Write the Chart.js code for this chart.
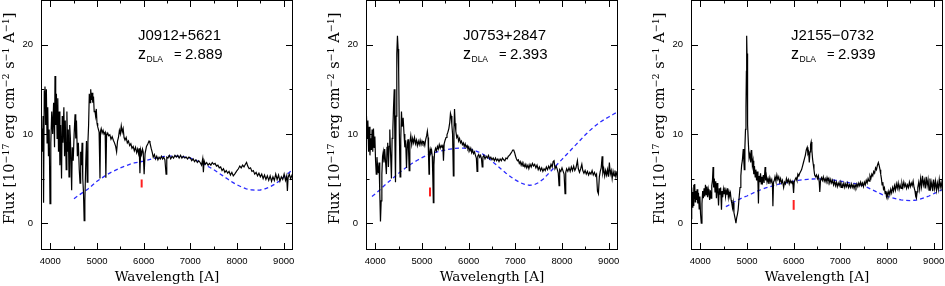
<!DOCTYPE html>
<html>
<head>
<meta charset="utf-8">
<script src="https://cdn.jsdelivr.net/npm/chart.js@4.4.1/dist/chart.umd.min.js"></script>
<style>
  body { margin: 0; background: #fff; }
  #wrap { position: relative; width: 945px; height: 286px; }
  canvas { position: absolute; top: 0; }
</style>
</head>
<body>
<div id="wrap">
  <canvas id="c1" width="295" height="286" style="left:0px"></canvas>
  <canvas id="c2" width="295" height="286" style="left:325px"></canvas>
  <canvas id="c3" width="295" height="286" style="left:650px"></canvas>
</div>
<script>
// axis ticks
var xTicks = [4000, 5000, 6000, 7000, 8000, 9000];
var xMinorTicks = [4500, 5500, 6500, 7500, 8500];
var yTicks = [0, 10, 20];
var yMinorTicks = [5, 15];

// panel labels
var names = ["J0912+5621", "J0753+2847", "J2155\u22120732"];
var zDla = ["2.889", "2.393", "2.939"];

// red DLA markers
var dlaWave = [5957, 5171, 6000];
var dlaLow = [4.0, 3.0, 1.5];
var dlaHigh = [4.9, 4.0, 2.6];

// J0912+5621 spectrum
var wave1 = [3800,3815,3830,3845,3855,3870,3885,3900,3915,3930,3945,3960,3975,3993,4010,4030,4050,4070,4090,4100,4115,4130,4145,4160,4175,4190,4205,4220,4240,4255,4270,4290,4305,4320,4340,4355,4370,4385,4400,4415,4430,4445,4457,4470,4490,4510,4530,4545,4560,4580,4600,4620,4636,4650,4665,4680,4695,4710,4725,4740,4760,4775,4790,4805,4820,4835,4850,4865,4880,4895,4910,4925,4940,4955,4970,4985,5000,5015,5030,5045,5064,5075,5090,5110,5130,5150,5175,5190,5205,5230,5250,5275,5300,5325,5350,5375,5400,5420,5440,5460,5480,5500,5520,5540,5560,5580,5600,5625,5650,5675,5700,5725,5750,5775,5800,5825,5850,5870,5890,5905,5920,5935,5955,5975,5990,6010,6030,6060,6090,6115,6135,6160,6185,6205,6230,6255,6280,6305,6330,6355,6380,6405,6430,6455,6480,6495,6520,6550,6580,6610,6640,6670,6700,6730,6760,6790,6820,6850,6880,6910,6940,6970,7000,7030,7060,7090,7120,7150,7180,7210,7240,7265,7280,7295,7320,7350,7380,7410,7440,7470,7500,7530,7560,7590,7620,7650,7680,7710,7740,7770,7800,7830,7860,7890,7920,7950,7975,8000,8030,8060,8090,8120,8150,8180,8205,8230,8260,8290,8320,8350,8380,8410,8440,8470,8500,8530,8560,8590,8620,8650,8680,8710,8740,8770,8800,8830,8860,8890,8920,8950,8980,9010,9040,9065,9080,9095,9120,9150,9180,9200];
var flux1 = [9.8,10.6,8.0,12.0,2.3,14.8,15.3,11.0,15.0,9.0,13.0,7.5,10.5,2.2,9.0,12.5,10.0,13.5,8.5,16.5,11.0,14.5,9.5,14.0,8.0,12.5,6.5,11.0,5.0,12.0,9.0,13.0,7.5,11.5,6.0,12.5,8.0,10.5,5.2,11.0,9.5,6.5,3.7,8.5,7.0,10.0,12.2,9.5,11.5,7.5,9.0,6.0,4.5,8.0,6.5,9.0,5.0,3.5,0.3,2.5,7.0,9.2,4.6,9.0,11.0,14.5,13.5,15.0,13.8,14.6,13.5,14.2,12.5,12.6,12.0,12.8,11.2,10.8,10.5,10.2,5.0,10.3,10.6,10.1,10.4,10.0,10.2,5.1,9.8,10.1,9.8,9.9,9.4,9.7,9.3,9.0,8.6,8.0,9.2,9.6,10.4,10.0,10.9,10.2,10.6,9.6,9.3,9.6,9.0,9.2,8.7,8.9,8.4,8.6,8.1,8.5,7.9,8.3,7.8,8.4,5.6,8.2,7.7,8.3,8.0,5.5,7.8,8.6,8.9,9.2,9.0,8.4,7.9,7.4,7.7,7.2,7.5,7.1,7.4,7.2,7.5,7.2,7.4,7.1,5.5,7.4,7.3,7.6,7.2,7.5,7.3,7.6,7.4,7.6,7.3,7.6,7.3,7.5,7.3,7.4,7.2,7.4,7.3,7.0,7.2,6.9,7.1,6.8,7.0,6.8,6.5,7.2,5.7,7.0,6.6,6.8,6.5,6.7,6.5,6.8,6.6,6.7,6.4,6.5,6.2,6.3,5.9,6.1,5.7,5.9,5.6,5.8,5.4,5.7,5.3,5.5,5.7,5.9,6.1,6.4,6.2,6.5,6.3,6.6,6.8,6.4,6.1,6.2,5.8,5.9,5.5,5.7,5.3,5.6,5.2,5.5,5.0,5.4,4.9,5.3,4.8,5.3,4.7,5.2,4.8,5.5,4.9,5.4,4.7,5.2,4.9,5.5,4.8,5.3,3.6,5.1,5.5,5.0,5.4,5.3];
var modelWave1 = [4507,4600,4700,4800,4900,5000,5100,5200,5300,5400,5500,5600,5700,5800,5900,6000,6100,6200,6300,6400,6500,6600,6700,6800,6900,7000,7100,7200,7300,7400,7500,7600,7700,7800,7900,8000,8100,8200,8300,8400,8500,8600,8700,8800,8900,9000,9100,9200];
var modelFlux1 = [2.75,3.1,3.45,3.8,4.25,4.7,5.05,5.4,5.7,5.95,6.2,6.4,6.6,6.75,6.85,6.95,7.1,7.25,7.35,7.45,7.5,7.52,7.5,7.45,7.4,7.3,7.1,6.85,6.6,6.3,6.0,5.65,5.3,4.95,4.6,4.3,4.05,3.85,3.75,3.7,3.72,3.85,4.05,4.35,4.7,5.15,5.6,6.05];

// J0753+2847 spectrum
var wave2 = [3800,3810,3825,3840,3855,3870,3885,3900,3915,3930,3945,3960,3975,3990,4005,4020,4035,4050,4065,4080,4095,4110,4125,4140,4155,4170,4185,4200,4215,4237,4250,4265,4280,4295,4310,4325,4345,4360,4375,4390,4405,4420,4432,4445,4460,4474,4488,4500,4515,4530,4545,4560,4575,4596,4615,4632,4650,4668,4685,4700,4712,4725,4740,4760,4780,4800,4820,4840,4860,4880,4900,4920,4940,4960,4980,5000,5020,5040,5060,5080,5100,5115,5130,5140,5150,5160,5175,5190,5205,5220,5232,5243,5255,5270,5290,5310,5330,5350,5370,5390,5410,5430,5445,5460,5475,5495,5515,5535,5555,5575,5595,5610,5625,5640,5655,5672,5685,5697,5710,5725,5745,5765,5785,5805,5825,5845,5865,5885,5905,5925,5945,5965,5985,6005,6025,6045,6065,6085,6105,6125,6145,6165,6180,6195,6215,6235,6255,6275,6290,6305,6325,6350,6375,6400,6425,6450,6475,6500,6525,6550,6575,6600,6625,6650,6675,6700,6725,6750,6775,6800,6825,6850,6875,6900,6925,6945,6965,6985,7005,7025,7045,7065,7085,7105,7125,7145,7165,7185,7205,7225,7245,7270,7290,7315,7340,7365,7390,7415,7440,7465,7490,7515,7540,7565,7590,7615,7640,7665,7690,7715,7740,7765,7790,7810,7830,7850,7875,7900,7920,7937,7950,7975,8000,8025,8045,8065,8080,8100,8125,8150,8175,8200,8225,8250,8275,8300,8330,8350,8375,8400,8425,8445,8470,8495,8520,8545,8570,8595,8620,8645,8670,8695,8720,8740,8760,8780,8800,8820,8840,8860,8875,8895,8915,8935,8955,8975,8995,9015,9035,9055,9075,9095,9115,9135,9155,9175,9200];
var flux2 = [10.0,12.0,9.5,11.5,8.0,10.8,7.6,9.5,8.2,10.5,8.0,10.6,8.5,9.7,7.0,5.5,7.4,6.2,5.6,6.8,3.5,0.2,2.5,5.5,7.5,8.0,6.8,8.3,7.2,5.5,8.5,9.0,6.3,8.6,10.5,8.0,5.0,9.5,10.5,13.0,15.0,9.0,4.6,12.0,19.0,21.0,19.5,17.0,10.0,5.2,9.5,12.5,10.8,11.8,10.0,8.5,9.3,6.2,8.8,9.4,8.2,5.9,9.0,9.8,8.8,9.5,9.0,9.6,8.9,9.3,8.7,9.2,8.8,9.3,8.8,9.2,8.9,9.1,8.7,9.4,9.8,10.3,9.6,7.5,5.5,7.8,8.3,7.9,8.2,7.5,5.0,2.3,6.5,8.0,8.4,8.1,8.6,8.3,8.8,8.4,8.7,8.5,8.8,7.0,8.9,9.3,9.6,9.9,10.2,10.6,11.3,12.3,12.0,11.0,10.0,5.3,10.5,12.8,11.2,10.3,9.6,9.8,9.2,9.5,9.0,9.2,8.8,9.0,8.6,8.9,8.5,8.7,8.3,8.5,8.1,8.4,7.9,8.2,7.8,8.0,7.6,7.3,5.8,7.5,7.7,7.4,7.6,7.2,6.3,7.4,7.6,7.2,7.5,7.3,7.6,7.2,7.4,7.1,7.3,7.0,7.3,7.0,7.2,6.9,7.2,7.0,7.3,7.1,7.0,7.3,7.2,7.5,7.6,7.8,8.0,8.2,8.2,7.9,7.5,7.2,7.0,7.1,6.7,6.9,6.5,6.8,6.4,6.6,6.3,6.6,6.2,6.5,6.1,6.6,6.3,6.7,6.4,6.6,6.2,6.5,6.0,6.3,5.9,6.2,5.8,6.1,5.9,6.3,6.0,6.4,6.1,6.6,6.3,6.9,7.0,6.1,6.4,6.0,5.6,4.2,6.0,5.8,6.2,5.8,5.5,3.3,5.7,6.1,5.8,6.2,5.8,6.3,5.9,6.4,5.9,6.2,7.0,6.1,5.7,6.1,6.6,5.9,5.6,5.9,5.5,5.8,5.4,5.7,5.5,5.9,5.4,5.7,5.3,5.5,3.6,3.3,5.2,5.8,6.2,7.5,5.6,6.1,5.3,5.9,5.4,6.0,5.2,6.8,5.5,5.9,5.0,5.8,5.3,5.9,5.2,5.7,5.5];
var modelWave2 = [3928,4000,4100,4200,4300,4400,4500,4600,4700,4800,4900,5000,5100,5200,5300,5400,5500,5600,5700,5800,5900,6000,6100,6200,6300,6400,6500,6600,6700,6800,6900,7000,7100,7200,7300,7400,7500,7600,7700,7800,7900,8000,8100,8200,8300,8400,8500,8600,8700,8800,8900,9000,9100,9200];
var modelFlux2 = [3.0,3.3,3.75,4.25,4.7,5.15,5.6,6.0,6.4,6.75,7.05,7.35,7.6,7.8,7.95,8.1,8.2,8.3,8.38,8.42,8.42,8.35,8.2,8.0,7.75,7.4,6.95,6.5,6.05,5.6,5.2,4.85,4.55,4.35,4.25,4.3,4.55,4.95,5.5,6.05,6.6,7.15,7.7,8.25,8.8,9.35,9.9,10.4,10.85,11.25,11.6,11.9,12.2,12.5];

// J2155-0732 spectrum
var wave3 = [3800,3810,3820,3830,3840,3850,3860,3870,3880,3890,3900,3915,3930,3945,3960,3975,3990,4005,4020,4035,4050,4065,4080,4095,4110,4125,4140,4155,4170,4185,4200,4215,4230,4245,4260,4273,4285,4300,4315,4330,4345,4360,4375,4390,4405,4420,4435,4453,4465,4480,4495,4510,4525,4540,4555,4570,4585,4600,4615,4630,4645,4660,4675,4690,4705,4720,4735,4750,4763,4778,4795,4810,4830,4850,4868,4885,4900,4920,4932,4942,4955,4968,4978,4987,4993,5000,5007,5018,5029,5045,5065,5080,5100,5115,5130,5145,5160,5175,5190,5205,5220,5235,5245,5258,5275,5290,5305,5320,5335,5350,5365,5388,5400,5415,5430,5450,5470,5490,5510,5530,5545,5555,5568,5585,5600,5620,5640,5660,5680,5700,5720,5740,5760,5785,5805,5825,5845,5865,5885,5905,5925,5945,5965,5985,5998,6012,6030,6050,6070,6090,6110,6130,6150,6170,6190,6210,6230,6250,6270,6290,6305,6320,6335,6350,6362,6375,6390,6405,6420,6435,6450,6470,6490,6510,6530,6548,6560,6575,6595,6615,6635,6655,6675,6695,6715,6735,6755,6775,6795,6815,6835,6855,6875,6895,6915,6935,6955,6975,6995,7015,7035,7055,7075,7095,7115,7135,7155,7175,7195,7215,7235,7255,7275,7295,7315,7335,7355,7375,7395,7415,7435,7455,7475,7495,7515,7535,7555,7575,7595,7615,7635,7655,7675,7695,7715,7735,7755,7775,7795,7815,7835,7850,7865,7880,7895,7910,7925,7945,7960,7975,7990,8005,8020,8040,8060,8080,8100,8120,8140,8160,8180,8200,8220,8240,8260,8280,8300,8320,8340,8360,8380,8400,8420,8440,8460,8480,8500,8520,8540,8560,8580,8600,8615,8630,8645,8660,8680,8700,8720,8740,8760,8780,8800,8820,8840,8860,8880,8900,8920,8940,8960,8980,9000,9020,9040,9060,9080,9100,9120,9140,9160,9180,9200];
var flux3 = [0.5,2.5,4.0,1.8,3.5,2.0,4.3,2.8,4.4,2.4,3.6,2.6,3.8,2.2,3.4,1.6,3.0,1.0,0.0,2.2,3.6,2.8,3.9,3.0,4.3,3.2,4.1,2.9,3.8,3.3,2.6,3.7,2.8,4.2,4.8,6.3,4.0,5.0,3.5,4.7,2.8,4.5,3.6,2.0,3.9,3.2,4.0,1.5,3.6,2.9,3.8,3.3,4.0,3.0,3.6,3.2,3.9,2.9,3.5,3.1,3.4,2.6,2.2,1.7,2.3,1.2,0.8,0.4,0.0,0.6,1.0,1.5,2.8,4.0,5.3,6.5,7.0,8.3,7.0,6.0,8.5,10.5,13.0,17.0,21.0,19.0,15.0,11.0,9.0,7.3,7.8,6.8,8.2,6.5,7.0,5.5,6.4,5.2,6.0,4.8,5.8,4.5,2.2,5.3,4.6,5.6,4.4,5.2,4.7,5.4,4.5,6.3,4.8,5.3,4.6,5.0,4.4,5.1,4.6,4.9,4.3,1.9,4.6,4.8,5.2,4.7,5.4,4.9,5.2,4.6,5.0,4.5,4.8,4.0,4.6,4.4,5.0,4.6,4.9,4.4,4.8,4.5,4.7,4.3,3.4,4.6,4.9,5.1,4.8,5.5,5.3,5.6,5.8,6.0,6.4,6.8,7.2,7.6,8.2,8.5,7.8,8.0,6.8,8.0,8.8,9.1,8.2,7.2,6.6,6.0,5.4,5.2,5.4,5.0,5.3,4.6,3.5,4.8,5.1,4.8,5.2,4.7,5.0,4.6,5.1,4.7,5.0,4.5,4.9,4.5,4.8,4.3,4.7,4.2,4.6,4.1,4.5,4.2,4.6,4.0,4.4,4.1,4.5,4.0,4.4,4.1,4.5,4.0,4.3,4.0,4.4,4.0,4.3,3.9,4.3,4.0,4.4,4.1,4.5,4.2,4.6,4.2,4.5,4.1,4.6,4.3,4.8,4.5,5.0,4.7,5.3,5.0,5.5,5.3,5.8,5.6,6.2,6.0,6.5,6.8,6.4,6.0,5.5,5.0,4.3,4.6,3.8,4.0,3.3,3.6,3.0,3.4,3.1,3.6,3.2,3.8,3.4,4.0,3.6,4.2,3.7,4.4,3.9,4.5,3.8,4.3,3.9,4.5,4.0,4.6,4.1,4.4,3.9,4.3,4.0,4.6,4.1,4.5,4.2,4.7,4.0,3.6,3.0,2.8,3.5,4.0,4.6,3.8,5.0,4.1,5.3,4.3,4.8,3.9,5.2,4.2,4.9,3.7,5.0,4.0,4.6,3.6,4.9,3.9,4.7,3.7,4.5,3.8,4.9,4.0,4.6,3.9,4.6];
var modelWave3 = [4547,4600,4700,4800,4900,5000,5100,5200,5300,5400,5500,5600,5700,5800,5900,6000,6100,6200,6300,6400,6500,6600,6700,6800,6900,7000,7100,7200,7300,7400,7500,7600,7700,7800,7900,8000,8100,8200,8300,8400,8500,8600,8700,8800,8900,9000,9100,9200];
var modelFlux3 = [1.85,2.0,2.3,2.6,2.85,3.05,3.3,3.55,3.75,3.95,4.1,4.25,4.4,4.5,4.6,4.7,4.8,4.87,4.92,4.95,4.96,4.95,4.92,4.87,4.8,4.72,4.63,4.53,4.45,4.35,4.2,3.95,3.7,3.45,3.2,3.02,2.85,2.72,2.62,2.56,2.53,2.57,2.68,2.85,3.05,3.3,3.55,3.8];

var textLeft = [97, 97, 100];

function pairs(w, f) {
    return w.map(function (x, i) { return { x: x, y: f[i] }; });
}

// frame, inward ticks, y title and the object labels
function framePlugin(k) {
    return {
        id: "frame" + k,
        afterDraw: function (chart) {
            var ctx = chart.ctx;
            var a = chart.chartArea;
            var sx = chart.scales.x, sy = chart.scales.y;
            ctx.save();
            ctx.strokeStyle = "#000";
            ctx.lineWidth = 1;
            ctx.strokeRect(a.left + 0.5, a.top + 0.5, a.right - a.left - 1, a.bottom - a.top - 1);
            ctx.beginPath();
            function xt(v, len) {
                var p = Math.round(sx.getPixelForValue(v)) + 0.5;
                ctx.moveTo(p, a.bottom); ctx.lineTo(p, a.bottom - len);
                ctx.moveTo(p, a.top); ctx.lineTo(p, a.top + len);
            }
            function yt(v, len) {
                var p = Math.round(sy.getPixelForValue(v)) + 0.5;
                ctx.moveTo(a.left, p); ctx.lineTo(a.left + len, p);
                ctx.moveTo(a.right, p); ctx.lineTo(a.right - len, p);
            }
            xTicks.forEach(function (v) { xt(v, 7); });
            xMinorTicks.forEach(function (v) { xt(v, 3.5); });
            yTicks.forEach(function (v) { yt(v, 7); });
            yMinorTicks.forEach(function (v) { yt(v, 3.5); });
            ctx.stroke();

            // y axis title with superscripts
            var parts = [["Flux [10", 0], ["\u221217", 1], [" erg cm", 0], ["\u22122", 1], [" s", 0], ["\u22121", 1], [" A", 0], ["\u22121", 1], ["]", 0]];
            var bigF = '14.5px "DejaVu Serif"', supF = '9.5px "DejaVu Serif"';
            var total = 0;
            parts.forEach(function (p) { ctx.font = p[1] ? supF : bigF; total += ctx.measureText(p[0]).width; });
            ctx.translate(a.left - 27.5, 118.5);
            ctx.rotate(-Math.PI / 2);
            ctx.fillStyle = "#000";
            ctx.textBaseline = "alphabetic";
            ctx.textAlign = "left";
            var x = -total / 2;
            parts.forEach(function (p) {
                ctx.font = p[1] ? supF : bigF;
                ctx.fillText(p[0], x, p[1] ? -4.5 : 0);
                x += ctx.measureText(p[0]).width;
            });
            ctx.restore();

            // object name and z_DLA
            ctx.save();
            ctx.fillStyle = "#000";
            ctx.textAlign = "left";
            ctx.textBaseline = "alphabetic";
            var tx = a.left + textLeft[k];
            ctx.font = '15px "Liberation Sans"';
            ctx.fillText(names[k], tx, a.top + 39.5);
            ctx.font = '16px "Liberation Sans"';
            ctx.fillText("z", tx, a.top + 58.5);
            ctx.font = '8.5px "Liberation Sans"';
            ctx.fillText("DLA", tx + 8.5, a.top + 61.7);
            ctx.font = '13px "Liberation Sans"';
            ctx.fillText("=", tx + 36, a.top + 57.5);
            ctx.font = '15px "Liberation Sans"';
            ctx.fillText(zDla[k], tx + 47, a.top + 58.5);
            ctx.restore();
        }
    };
}

function makePanel(id, k, wave, flux, mWave, mFlux) {
    var ctx = document.getElementById(id).getContext("2d");
    return new Chart(ctx, {
        type: "scatter",
        data: {
            datasets: [
                { data: pairs(wave, flux), showLine: true, borderColor: "#000", borderWidth: 1.2, pointRadius: 0 },
                { data: pairs(mWave, mFlux), showLine: true, borderColor: "#2b2bff", borderWidth: 1.3, borderDash: [4, 3], pointRadius: 0 },
                { data: [{ x: dlaWave[k], y: dlaLow[k] }, { x: dlaWave[k], y: dlaHigh[k] }], showLine: true, borderColor: "#ff2020", borderWidth: 2, pointRadius: 0 }
            ]
        },
        options: {
            responsive: false,
            animation: false,
            events: [],
            layout: { padding: { left: 0, right: 2, top: 0, bottom: 0 } },
            plugins: { legend: { display: false }, tooltip: { enabled: false } },
            scales: {
                x: {
                    type: "linear", position: "bottom", min: 3800, max: 9200,
                    afterBuildTicks: function (s) { s.ticks = xTicks.map(function (v) { return { value: v }; }); },
                    afterFit: function (s) { s.height = 36; s.paddingLeft = 0; s.paddingRight = 0; },
                    grid: { display: false, drawTicks: false },
                    border: { display: false },
                    ticks: {
                        padding: 6, maxRotation: 0, autoSkip: false, color: "#000",
                        font: { family: "Liberation Sans", size: 9.5 },
                        callback: function (v) { return String(v); }
                    },
                    title: { display: true, text: "Wavelength [A]", color: "#000", font: { family: "DejaVu Serif", size: 13.5 }, padding: 0 }
                },
                y: {
                    type: "linear", position: "left", min: -3, max: 25,
                    afterBuildTicks: function (s) { s.ticks = yTicks.map(function (v) { return { value: v }; }); },
                    afterFit: function (s) { s.width = 41; s.paddingTop = 0; s.paddingBottom = 0; },
                    grid: { display: false, drawTicks: false },
                    border: { display: false },
                    ticks: {
                        padding: 8, color: "#000",
                        font: { family: "Liberation Sans", size: 9.5 },
                        callback: function (v) { return String(v); }
                    }
                }
            }
        },
        plugins: [framePlugin(k)]
    });
}

makePanel("c1", 0, wave1, flux1, modelWave1, modelFlux1);
makePanel("c2", 1, wave2, flux2, modelWave2, modelFlux2);
makePanel("c3", 2, wave3, flux3, modelWave3, modelFlux3);
</script>
</body>
</html>
